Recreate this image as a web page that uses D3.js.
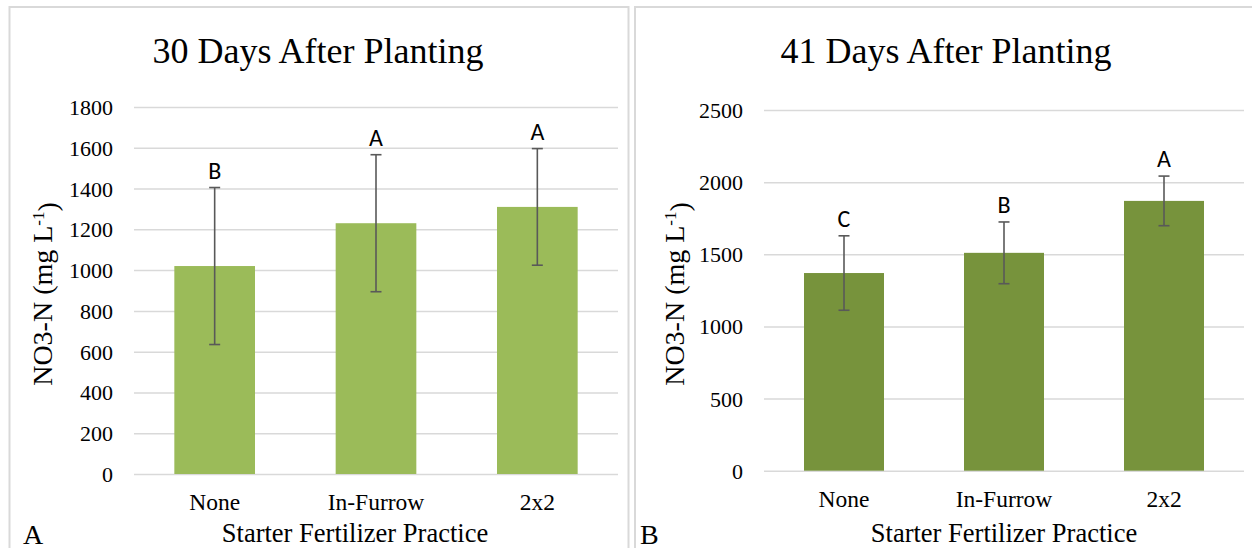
<!DOCTYPE html>
<html>
<head>
<meta charset="utf-8">
<script src="https://cdn.jsdelivr.net/npm/d3@7"></script>
<style>
  html, body { margin: 0; padding: 0; background: #ffffff; }
  svg { display: block; }
  .serif { font-family: "Liberation Serif", "Times New Roman", serif; fill: #000; }
  .letter { font-family: Carlito, Calibri, Lato, "Open Sans", sans-serif; fill: #000; }
</style>
</head>
<body>
<svg id="chart" width="1252" height="548"></svg>
<script>
// Starter fertilizer practices
const categories = ["None", "In-Furrow", "2x2"];

// 30 days after planting: mean NO3-N (mg/L), error, significance letters
const means30 = [1020, 1230, 1310];
const errors30 = [385, 336, 286];
const letters30 = ["B", "A", "A"];
const ticks30 = [0, 200, 400, 600, 800, 1000, 1200, 1400, 1600, 1800];

// 41 days after planting
const means41 = [1370, 1510, 1870];
const errors41 = [258, 214, 172];
const letters41 = ["C", "B", "A"];
const ticks41 = [0, 500, 1000, 1500, 2000, 2500];

const svg = d3.select("#chart");

function panel(cfg) {
  const g = svg.append("g");

  // panel frame
  g.append("rect")
    .attr("x", cfg.frame[0]).attr("y", cfg.frame[1])
    .attr("width", cfg.frame[2]).attr("height", cfg.frame[3])
    .attr("fill", "none").attr("stroke", "#d9d9d9").attr("stroke-width", 2);

  const x = d3.scaleBand()
    .domain(categories)
    .range([cfg.left, cfg.right])
    .paddingInner(0.5).paddingOuter(0.25);
  const y = d3.scaleLinear()
    .domain([0, cfg.ticks[cfg.ticks.length - 1]])
    .range([cfg.bottom, cfg.top]);

  // value axis with gridlines
  const ax = g.append("g")
    .attr("transform", `translate(${cfg.left},0)`)
    .call(d3.axisLeft(y)
      .tickValues(cfg.ticks)
      .tickFormat(d3.format("d"))
      .tickSize(-(cfg.right - cfg.left))
      .tickPadding(21));
  ax.select(".domain").remove();
  ax.selectAll(".tick line").attr("stroke", "#d9d9d9").attr("stroke-width", 1.5);
  ax.selectAll(".tick text")
    .attr("class", "serif")
    .attr("fill", "#000")
    .style("font-size", "22px")
    .attr("dy", "0.34em");

  const data = categories.map((c, i) => ({
    c, m: cfg.means[i], e: cfg.errors[i], l: cfg.letters[i]
  }));

  // bars
  g.selectAll("rect.bar").data(data).join("rect")
    .attr("class", "bar")
    .attr("x", d => x(d.c))
    .attr("width", x.bandwidth())
    .attr("y", d => y(d.m))
    .attr("height", d => y(0) - y(d.m))
    .attr("fill", cfg.color);

  // error bars
  const eb = g.selectAll("g.err").data(data).join("g").attr("class", "err")
    .attr("stroke", "#595959").attr("stroke-width", 1.6);
  const cx = d => x(d.c) + x.bandwidth() / 2;
  eb.append("line")
    .attr("x1", cx).attr("x2", cx)
    .attr("y1", d => y(d.m + d.e)).attr("y2", d => y(d.m - d.e));
  eb.append("line")
    .attr("x1", d => cx(d) - 5.5).attr("x2", d => cx(d) + 5.5)
    .attr("y1", d => y(d.m + d.e)).attr("y2", d => y(d.m + d.e));
  eb.append("line")
    .attr("x1", d => cx(d) - 5.5).attr("x2", d => cx(d) + 5.5)
    .attr("y1", d => y(d.m - d.e)).attr("y2", d => y(d.m - d.e));

  // significance letters
  g.selectAll("text.letter").data(data).join("text")
    .attr("class", "letter")
    .attr("x", cx)
    .attr("y", d => y(d.m + d.e) - 9)
    .attr("text-anchor", "middle")
    .style("font-size", "24px")
    .text(d => d.l);

  // category labels
  g.selectAll("text.cat").data(data).join("text")
    .attr("class", "serif cat")
    .attr("x", cx)
    .attr("y", cfg.bottom + 36)
    .attr("text-anchor", "middle")
    .style("font-size", "23.5px")
    .text(d => d.c);

  // title
  g.append("text").attr("class", "serif")
    .attr("x", cfg.titleX).attr("y", 62.5)
    .attr("text-anchor", "middle")
    .style("font-size", "36px")
    .text(cfg.title);

  // x-axis title
  g.append("text").attr("class", "serif")
    .attr("x", cfg.xTitleX).attr("y", 541.5)
    .attr("text-anchor", "middle")
    .style("font-size", "26.5px")
    .text("Starter Fertilizer Practice");

  // y-axis title
  const yt = g.append("text").attr("class", "serif")
    .attr("transform", `translate(${cfg.yTitleX},294) rotate(-90)`)
    .attr("text-anchor", "middle")
    .style("font-size", "28px");
  yt.append("tspan").text("NO3-N (mg L");
  yt.append("tspan").attr("dy", "-0.45em").style("font-size", "17px").text("-1");
  yt.append("tspan").attr("dy", "0.45em").text(")");

  // panel letter
  g.append("text").attr("class", "serif")
    .attr("x", cfg.tagX).attr("y", 543.5)
    .style("font-size", "28px")
    .text(cfg.tag);
}

panel({
  frame: [9.5, 7, 619, 560],
  left: 134, right: 618, top: 107, bottom: 474,
  ticks: ticks30, means: means30, errors: errors30, letters: letters30,
  color: "#9bbb59",
  title: "30 Days After Planting", titleX: 318,
  xTitleX: 355, yTitleX: 52, tag: "A", tagX: 23
});

panel({
  frame: [635, 7, 640, 560],
  left: 764, right: 1244, top: 110, bottom: 470.7,
  ticks: ticks41, means: means41, errors: errors41, letters: letters41,
  color: "#77933c",
  title: "41 Days After Planting", titleX: 946,
  xTitleX: 1004, yTitleX: 684, tag: "B", tagX: 640
});
</script>
</body>
</html>
